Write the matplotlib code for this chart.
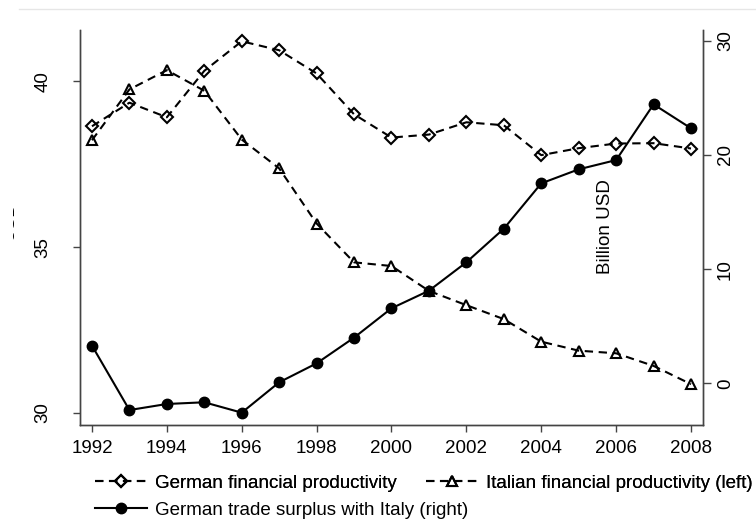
import matplotlib.pyplot as plt
from matplotlib.lines import Line2D
from matplotlib.patches import Rectangle

plt.rcParams['font.family'] = ['Liberation Sans', 'DejaVu Sans']

# data
years = list(range(1992, 2009))
german_prod = [38.64, 39.35, 38.91, 40.31, 41.20, 40.93, 40.23, 39.00, 38.30,
               38.39, 38.76, 38.67, 37.77, 37.98, 38.12, 38.13, 37.97]
italian_prod = [38.22, 39.75, 40.33, 39.71, 38.24, 37.37, 35.71, 34.54, 34.43,
                33.68, 33.25, 32.83, 32.15, 31.88, 31.80, 31.42, 30.87]
trade_surplus = [3.30, -2.34, -1.81, -1.66, -2.57, 0.09, 1.75, 4.00, 6.57,
                 8.11, 10.60, 13.54, 17.51, 18.74, 19.55, 24.43, 22.33]
xticks = list(range(1992, 2009, 2))
left_ticks = [30, 35, 40]
right_ticks = [0, 10, 20, 30]

W, H = 756, 520
fs = 13.5
spine_col = '#444444'

fig = plt.figure(figsize=(W / 100, H / 100), dpi=100)
ax = fig.add_axes([80 / W, 1 - 425 / H, (703 - 80) / W, (425 - 30) / H])
ax2 = ax.twinx()

dash = (0, (4, 2.7))
l1, = ax.plot(years, german_prod, color='black', lw=1.5, ls=dash,
              marker='D', ms=6.5, mfc='none', mec='black', mew=1.5)
l2, = ax.plot(years, italian_prod, color='black', lw=1.5, ls=dash,
              marker='^', ms=7, mfc='none', mec='black', mew=1.5)
l3, = ax2.plot(years, trade_surplus, color='black', lw=1.5, ls='-',
               marker='o', ms=7.5, mfc='black', mec='black')

ax.set_xlim(1991.68, 2008.32)
ax.set_ylim(29.64, 41.54)
ax2.set_ylim(-3.65, 30.94)

ax.set_xticks(xticks)
ax.set_yticks(left_ticks)
ax2.set_yticks(right_ticks)

for a in (ax, ax2):
    a.spines['top'].set_visible(False)
    for s in ('left', 'right', 'bottom'):
        a.spines[s].set_color(spine_col)
        a.spines[s].set_linewidth(1.0)

ax.tick_params(axis='x', length=5, width=1, color=spine_col, pad=6, labelsize=fs)
ax.tick_params(axis='y', length=5.3, width=1, color=spine_col, pad=15, labelsize=fs)
ax2.tick_params(axis='y', length=6, width=1, color=spine_col, pad=4, labelsize=fs)
for lab in ax.get_yticklabels():
    lab.set_rotation(90)
    lab.set_va('center')
for lab in ax2.get_yticklabels():
    lab.set_rotation(90)
    lab.set_va('center')

# right axis title sits inside the plot, left one is cut off at the edge
ax2.text(605 / W, 1 - 227 / H, 'Billion USD', transform=fig.transFigure,
         rotation=90, ha='center', va='center', fontsize=fs)
fig.text(18 / W, 1 - 221 / H, 'USD', rotation=90, ha='right', va='center',
         fontsize=fs)
fig.add_artist(Rectangle((0, 0), 12.7 / W, 1, transform=fig.transFigure,
                         facecolor='white', edgecolor='none', zorder=10))
fig.add_artist(Line2D([19 / W, 1], [1 - 9 / H, 1 - 9 / H],
                      transform=fig.transFigure, color='#e6e6e6', lw=1))

leg_kw = dict(loc='center left', frameon=False, fontsize=fs, handlelength=2.75,
              handletextpad=0.45, columnspacing=1.55, borderpad=0,
              borderaxespad=0)
leg1 = fig.legend([l1, l2],
                  ['German financial productivity',
                   'Italian financial productivity (left)'],
                  ncol=2, bbox_to_anchor=(95 / W, 1 - 483 / H), **leg_kw)
fig.add_artist(leg1)
fig.legend([l3], ['German trade surplus with Italy (right)'],
           bbox_to_anchor=(95 / W, 1 - 510 / H), **leg_kw)

fig.savefig('out.png', dpi=100)
